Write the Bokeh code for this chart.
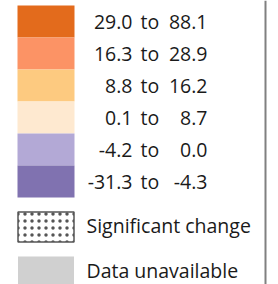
from bokeh.plotting import figure
from bokeh.models import ColumnDataSource
from bokeh.core.properties import value
from bokeh.embed import file_html
from bokeh.resources import INLINE

# Legend data
lower = ["29.0", "16.3", "8.8", "0.1", "-4.2", "-31.3"]
upper = ["88.1", "28.9", "16.2", "8.7", "0.0", "-4.3"]
colors = ["#E36B1C", "#FC9365", "#FDCA80", "#FEE9D0", "#B3A9D6", "#8072B0"]
extra_labels = ["Significant change", "Data unavailable"]
extra_fill = ["#FFFFFF", "#D0D0D0"]

W, H = 278, 284
FONT = "Open Sans"
TXT = "#1a1a1a"

p = figure(width=W, height=H, output_backend="svg", toolbar_location=None,
           x_range=(0, W), y_range=(H, 0), min_border=0)
p.axis.visible = False
p.xgrid.visible = False
p.ygrid.visible = False
p.outline_line_color = None
p.background_fill_color = "white"
p.border_fill_color = "white"

top0, row_h = 5, 32
box_x0, box_x1 = 17, 74
n = len(colors)
ys = [top0 + row_h * i + row_h / 2 for i in range(n)]
src = ColumnDataSource(dict(y=ys, c=colors, lo=lower, hi=upper,
                            to=["to"] * n))
p.rect(x=(box_x0 + box_x1) / 2, y="y", width=box_x1 - box_x0, height=row_h,
       fill_color="c", line_color=None, source=src)

fs = "19.5px"
p.text(x=132, y="y", text="lo", source=src, text_align="right",
       text_baseline="middle", text_font=value(FONT), text_font_size=fs,
       text_color=TXT)
p.text(x=140, y="y", text="to", source=src, text_align="left",
       text_baseline="middle", text_font=value(FONT), text_font_size=fs,
       text_color=TXT)
p.text(x=207, y="y", text="hi", source=src, text_align="right",
       text_baseline="middle", text_font=value(FONT), text_font_size=fs,
       text_color=TXT)

# significance box (dotted) and unavailable box
p.rect(x=(box_x0 + box_x1) / 2, y=226.5, width=box_x1 - box_x0 - 1, height=30,
       fill_color=extra_fill[0], line_color="#555555", line_width=1.5,
       hatch_pattern="dot", hatch_scale=7, hatch_color="#555555",
       hatch_weight=0.7)
p.rect(x=(box_x0 + box_x1) / 2, y=270, width=box_x1 - box_x0 - 1, height=28,
       fill_color=extra_fill[1], line_color=None)
p.text(x=[86, 86], y=[225, 270], text=extra_labels, text_align="left",
       text_baseline="middle", text_font=value(FONT), text_font_size=fs,
       text_color=TXT)

# right border line
p.segment(x0=265, y0=0, x1=265, y1=300, line_color="#808080", line_width=2)

open("out.html", "w").write(file_html(p, INLINE))
